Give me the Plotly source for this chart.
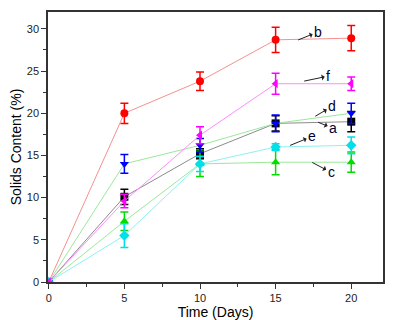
import plotly.graph_objects as go

days = [0, 5, 10, 15, 20]

a_vals = [0, 10.1, 15.2, 18.8, 19.0]
a_err = [0, 0.9, 0.6, 0.9, 1.2]
b_vals = [0, 20.0, 23.8, 28.7, 28.9]
b_err = [0, 1.2, 1.1, 1.5, 1.5]
c_vals = [0, 7.2, 14.0, 14.2, 14.2]
c_err = [0, 1.1, 1.5, 1.5, 1.2]
d_vals = [0, 14.0, 16.2, 18.8, 20.0]
d_err = [0, 1.1, 0.8, 1.0, 1.2]
e_vals = [0, 5.5, 14.0, 16.0, 16.2]
e_err = [0, 1.4, 0.9, 0.4, 1.0]
f_vals = [0, 9.6, 17.4, 23.5, 23.5]
f_err = [0, 0.8, 1.0, 1.25, 0.8]

series_names = ["a", "b", "c", "d", "e", "f"]
series_vals = [a_vals, b_vals, c_vals, d_vals, e_vals, f_vals]
series_errs = [a_err, b_err, c_err, d_err, e_err, f_err]
marker_colors = ["#000000", "#ff0000", "#00dd00", "#0000ff", "#00e0e8", "#ff00ff"]
line_colors = ["#8c8c8c", "#f59090", "#9be89b", "#9be89b", "#8ef0f0", "#ff8cff"]
symbols = ["square", "circle", "triangle-up", "triangle-down", "diamond", "triangle-left"]

# label annotations: (label, x, y, ax, ay)
labels = [
    ("b", 16.49, 28.69, 20, -8),
    ("f", 16.89, 23.81, 24, -5),
    ("d", 17.62, 19.64, 17, -10),
    ("a", 17.81, 18.93, 15, 6),
    ("e", 15.96, 16.19, 22, -9),
    ("c", 17.42, 14.17, 19, 10),
]

fig = go.Figure()
for name, vals, errs, mc, lc, sym in zip(series_names, series_vals, series_errs,
                                          marker_colors, line_colors, symbols):
    fig.add_trace(go.Scatter(
        x=days, y=vals, name=name, mode="lines+markers",
        line=dict(color=lc, width=1),
        marker=dict(color=mc, symbol=sym, size=8),
        error_y=dict(type="data", array=errs, visible=True, color=mc,
                     thickness=1.5, width=4),
        showlegend=False,
    ))

font = "Arial, 'Liberation Sans', sans-serif"
for lab, x, y, ax, ay in labels:
    fig.add_annotation(
        x=x, y=y, ax=ax, ay=ay, text=lab, showarrow=True,
        arrowside="start", arrowhead=2, arrowsize=0.8, arrowwidth=1,
        arrowcolor="#222222", font=dict(family=font, size=14, color="#000033"),
        startstandoff=0, standoff=0,
    )

axis_common = dict(
    showline=True, linecolor="#333333", linewidth=1.5, mirror=True,
    ticks="outside", ticklen=5, tickwidth=1, tickcolor="#333333",
    showgrid=False, zeroline=False, automargin=False,
    tickfont=dict(family=font, size=11, color="#222222"),
)

fig.update_xaxes(
    range=[-0.05, 22.1], tickvals=[0, 5, 10, 15, 20],
    minor=dict(ticks="outside", ticklen=3, tickcolor="#333333", dtick=2.5, tick0=0),
    title=dict(text="Time (Days)", font=dict(family=font, size=14, color="#000000"), standoff=0),
    **axis_common,
)
fig.update_yaxes(
    range=[0, 32], tickvals=[0, 5, 10, 15, 20, 25, 30],
    minor=dict(ticks="outside", ticklen=3, tickcolor="#333333", dtick=2.5, tick0=0),
    title=dict(text="Solids Content (%)", font=dict(family=font, size=14, color="#000000"), standoff=2),
    **axis_common,
)

# page body has an 8px default margin, so the figure is sized to fit the window
fig.update_layout(
    width=390, height=312,
    margin=dict(l=40, r=15, t=4, b=38),
    paper_bgcolor="white", plot_bgcolor="white",
)

fig.write_html("out.html")
